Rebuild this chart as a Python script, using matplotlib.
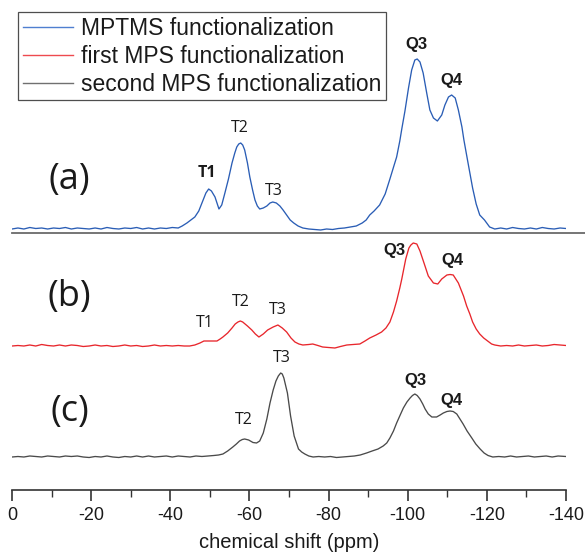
import matplotlib
matplotlib.use("Agg")
import matplotlib.pyplot as plt
from matplotlib.lines import Line2D

# ---------------- data ----------------
ppm_a = [0, -1.5, -3, -4.5, -6, -7.5, -9, -10.5, -12, -13.5,
         -15, -16.5, -18, -19.5, -21, -22.5, -24, -25.5, -27, -28.5,
         -30, -31.5, -33, -34.5, -36, -37.5, -39, -40.5, -42, -43,
         -44.2, -45.2, -46.2, -47.2, -48.0, -49.0, -49.7, -50.4, -51.3, -52.3,
         -53.0, -53.8, -54.7, -55.6, -56.3, -56.8, -57.3, -57.8, -58.3, -58.8,
         -59.5, -60.1, -60.8, -61.4, -62.0, -62.6, -63.5, -64.4, -65.2, -65.9,
         -66.8, -67.7, -68.5, -69.4, -70.3, -71.2, -72.3, -73.5, -75.0, -76.5,
         -78.0, -79.5, -81.0, -82.5, -84.0, -85.5, -87.0, -88.5, -89.5, -90.4,
         -91.5, -92.9, -94.3, -95.5, -96.5, -97.2, -98.0, -98.5, -99.3, -100.2,
         -101.0, -101.8, -102.4, -103.1, -103.9, -104.8, -105.6, -106.5, -107.5, -108.6,
         -109.4, -110.3, -111.1, -112.0, -112.8, -113.7, -114.2, -115.2, -116.4, -117.3,
         -118.2, -119.4, -120.7, -122.0, -123.5, -125, -126.5, -128, -129.5, -131,
         -132.5, -134, -135.5, -137, -138.5, -140]
int_a = [0, 1, 0, 1.5, 0.5, 1, 0, 1, 0.5, 1.5,
         0, 1, 0.5, 0, 1, 0, 1.5, 0.5, 0, 1,
         0.5, 1.5, 0, 1, 0, 1, 0.5, 1.5, 1, 3,
         6, 9, 12, 18, 26, 36, 40, 38, 32, 20,
         24, 36, 50, 66, 76, 82, 85, 86, 84, 79,
         66, 52, 39, 29, 23, 20, 21, 23, 26, 27,
         26, 23, 19, 14, 9, 6, 3, 1, 0, -0.5,
         -1, 0, -0.5, 0.5, 1, 2, 3, 6, 9, 14,
         18, 24, 35, 50, 63, 72, 88, 100, 118, 141,
         159, 169, 170, 167, 156, 136, 119, 111, 108, 114,
         124, 132, 134, 131, 119, 102, 89, 67, 41, 25,
         14, 9, 2, 0, 1, 0, 1.5, 0.5, 0, 1,
         0, 1.5, 0.5, 0, 1, 0.5]

ppm_b = [0, -1.5, -3, -4.5, -6, -7.5, -9, -10.5, -12, -13.5,
         -15, -16.5, -18, -19.5, -21, -22.5, -24, -25.5, -27, -28.5,
         -30, -31.5, -33, -34.5, -36, -37.5, -39, -40.5, -42, -43.5,
         -44.9, -46.2, -47.5, -48.5, -49.2, -50.5, -51.8, -52.6, -53.3, -54.5,
         -55.6, -56.4, -57.1, -57.7, -58.3, -59.5, -60.6, -61.5, -62.4, -63.5,
         -64.6, -66.0, -67.2, -68.3, -69.4, -70.5, -71.5, -72.5, -73.5, -75.0,
         -76.0, -77.3, -78.5, -80.0, -81.6, -83.0, -84.6, -86.2, -87.9, -89.2,
         -90.4, -92.0, -93.4, -94.5, -95.5, -96.4, -97.2, -98.0, -98.5, -99.5,
         -100.3, -100.8, -101.4, -102.3, -103.1, -104.2, -105.2, -106.5, -107.6, -108.6,
         -109.9, -110.7, -111.5, -112.8, -114.1, -114.9, -115.7, -116.4, -117.3, -118.2,
         -119.2, -120.2, -121.2, -122, -123.5, -125, -126.5, -128, -129.5, -131,
         -132.5, -134, -135.5, -137, -138.5, -140]
int_b = [0, 0.5, 0, 1, 0, 1.5, 0.5, 0, 1, 0,
         1, 0.5, -0.5, 0, 1, 0, 0.5, -0.5, 0, 1,
         0, 0.5, -0.5, 0, 1, 0, 0.5, 0, 0.5, 0,
         0, 1, 3, 5, 5, 5, 5, 7, 9, 13,
         18, 22, 24, 25, 24, 20, 16, 12, 9, 12,
         16, 19, 21, 18, 14, 8, 4, 2, 1, 1.5,
         2, 0.5, -1, -1.5, -2, -0.5, 1, 1.5, 2, 5,
         8, 11, 14, 18, 24, 34, 45, 58, 67, 87,
         98, 101, 103, 102, 95, 82, 70, 63, 62, 67,
         71, 71.5, 71, 63, 50, 40, 32, 24, 17, 12,
         8, 5, 2, 1, 0, 0.5, 0, 1, 0, 0.5,
         1, 0, 0.5, 1.5, 1, 0.5]

ppm_c = [0, -1.5, -3, -4.5, -6, -7.5, -9, -10.5, -12, -13.5,
         -15, -16.5, -18, -19.5, -21, -22.5, -24, -25.5, -27, -28.5,
         -30, -31.5, -33, -34.5, -36, -37.5, -39, -40.5, -42, -43.5,
         -45, -46.5, -48, -49.5, -51, -52.2, -53.3, -54.5, -55.8, -56.7,
         -57.5, -58.2, -58.8, -59.8, -60.9, -61.8, -62.6, -63.5, -64.4, -65.2,
         -66.0, -66.7, -67.3, -67.9, -68.3, -68.7, -69.6, -70.4, -71.3, -72.4,
         -73.2, -74.0, -75.0, -76.1, -77.5, -79, -80.5, -82, -83.5, -85,
         -86.5, -88, -89.6, -91, -92.5, -93.8, -94.7, -95.5, -96.4, -97.2,
         -98.1, -98.9, -99.8, -100.6, -101.2, -101.8, -102.4, -103.1, -103.8, -104.4,
         -105.2, -106.1, -107.3, -108.2, -109.0, -109.9, -110.7, -111.5, -112.4, -113.2,
         -114.0, -115.0, -116.2, -117.2, -118.3, -119.3, -120.3, -121.5, -123, -124.5,
         -126, -127.5, -129, -130.5, -132, -133.5, -135, -136.5, -138, -140]
int_c = [0, 0.5, 0, 1, 0.5, 0, 1, 0.5, 0, 1,
         0.5, 1, 0, -0.5, 0.5, 0, 1, 0, -0.5, 0.5,
         0, 1, 0, 1, 0, 0.5, 1, 0, 1, 0.5,
         0, 1, 0.5, 1, 1.5, 2, 3, 6, 10, 13,
         16, 17.5, 18, 17, 14.5, 14, 16, 24, 38, 54,
         67, 76, 81, 84, 83, 79, 64, 41, 21, 8,
         5, 3, 1, 0, 0.5, 0, 0.5, -0.5, 0, 0.5,
         1, 2, 4, 6, 8, 11, 14, 19, 26, 34,
         42, 49, 55, 59, 61.5, 63, 61.5, 58, 53, 48,
         43, 40, 40, 42, 44, 45.5, 46, 45.5, 43, 38,
         33, 26, 19, 13, 8, 4, 1.5, 0, 0.5, 0,
         1, 0, 0.5, 1, 0, 0.5, 1, 0, 1, 0.5]

series_labels = ["MPTMS functionalization", "first MPS functionalization",
                 "second MPS functionalization"]
panel_labels = ["(a)", "(b)", "(c)"]
xticks = [0, -20, -40, -60, -80, -100, -120, -140]

# peak labels: (text, ppm, height above baseline, bold)
peaks_a = [("T1", -49.3, 56, True), ("T2", -57.6, 101, False), ("T3", -66.2, 38, False),
           ("Q3", -102.3, 185, True), ("Q4", -111.1, 148, True)]
peaks_b = [("T1", -48.8, 23, False), ("T2", -57.8, 44, False), ("T3", -67.2, 36, False),
           ("Q3", -96.7, 96, True), ("Q4", -111.4, 85, True)]
peaks_c = [("T2", -58.6, 37, False), ("T3", -68.2, 99, False),
           ("Q3", -102.0, 77, True), ("Q4", -111.1, 56, True)]

# ---------------- layout / style ----------------
W, H = 585, 554
fig = plt.figure(figsize=(W / 100, H / 100), dpi=100)
ax_left, ax_right, ax_bottom_px = 12, 566, 490
ax = fig.add_axes([ax_left / W, (H - ax_bottom_px) / H, (ax_right - ax_left) / W, ax_bottom_px / H])
ax.set_xlim(0, -140)
ax.set_ylim(0, ax_bottom_px)

colors = ["#2a5db5", "#e8262c", "#4a4a4a"]
leg_colors = ["#4f7fd0", "#ee4a4f", "#707070"]
offsets = [490 - 229, 490 - 346, 490 - 457]

for ppm, inten, col, off in zip([ppm_a, ppm_b, ppm_c], [int_a, int_b, int_c], colors, offsets):
    ax.plot(ppm, [v + off for v in inten], color=col, lw=0.95,
            solid_joinstyle="round", antialiased=True)

# separator line beneath spectrum (a)
ax.add_line(Line2D([0, (585 - ax_left) / (ax_right - ax_left)],
                   [(490 - 233) / 490] * 2, transform=ax.transAxes,
                   color="#6a6a6a", lw=1.3, clip_on=False))

label_font = ["Open Sans", "DejaVu Sans"]
for lab, ypx in zip(panel_labels, [180, 297, 412]):
    ax.text(-14.5, 490 - ypx, lab, fontsize=26, family=label_font,
            ha="center", va="center", color="#1a1a1a")

for peaks, off in zip([peaks_a, peaks_b, peaks_c], offsets):
    for txt, p, hgt, bold in peaks:
        if txt.startswith("Q"):
            fam = ["Liberation Sans", "DejaVu Sans"]
            fs = 12
        else:
            fam = label_font
            fs = 11.5
        ax.text(p, off + hgt, txt, fontsize=fs, family=fam,
                fontweight="bold" if bold else "normal",
                ha="center", va="center", color="#1a1a1a")

for s in ["top", "right", "left"]:
    ax.spines[s].set_visible(False)
ax.spines["bottom"].set_color("#333333")
ax.spines["bottom"].set_linewidth(1.2)
ax.set_yticks([])
ax.set_xticks(xticks)
ax.set_xticklabels([str(t) for t in xticks], family=["Liberation Sans", "DejaVu Sans"], fontsize=13)
ax.set_xticks(list(range(-10, -140, -20)), minor=True)
ax.tick_params(axis="x", which="major", length=8, width=1.2, color="#333333", pad=4,
               labelcolor="#1a1a1a")
ax.tick_params(axis="x", which="minor", length=5, width=1.0, color="#333333")
ax.set_xlabel("chemical shift (ppm)", family=["Liberation Sans", "DejaVu Sans"],
              fontsize=14.5, color="#1a1a1a", labelpad=7)

handles = [Line2D([], [], color=c, lw=1.0) for c in leg_colors]
leg = fig.legend(handles, series_labels, loc="upper left",
                 bbox_to_anchor=(18 / W, 1 - 12 / H), frameon=True, fancybox=False,
                 borderaxespad=0, prop={"family": ["Liberation Sans", "DejaVu Sans"], "size": 16.5},
                 handlelength=2.2, handletextpad=0.35, labelspacing=0.22,
                 borderpad=0.2)
leg.get_frame().set_edgecolor("#222222")
leg.get_frame().set_linewidth(0.9)
for t in leg.get_texts():
    t.set_color("#1a1a1a")

fig.savefig("out.png", dpi=100)
